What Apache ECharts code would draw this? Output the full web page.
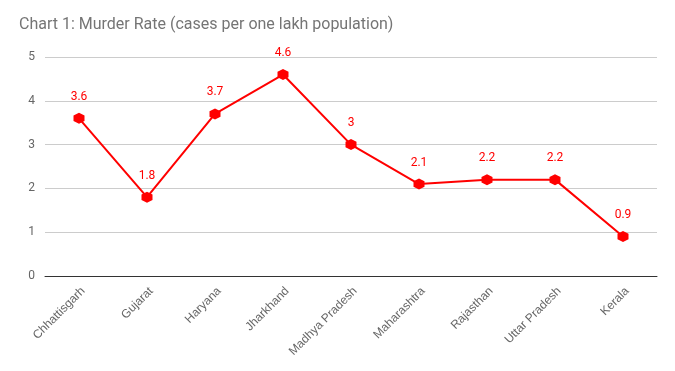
<!DOCTYPE html>
<html>
<head>
<meta charset="utf-8">
<script src="https://cdn.jsdelivr.net/npm/echarts@6/dist/echarts.min.js"></script>
<style>html,body{margin:0;padding:0;background:#fff;}#c{width:675px;height:371px;}</style>
</head>
<body>
<div id="c"></div>
<script>
const categories = ["Chhattisgarh","Gujarat","Haryana","Jharkhand","Madhya Pradesh","Maharashtra","Rajasthan","Uttar Pradesh","Kerala"];
const murderRate = [3.6, 1.8, 3.7, 4.6, 3, 2.1, 2.2, 2.2, 0.9];
const yTicks = [0, 1, 2, 3, 4, 5];

const chart = echarts.init(document.getElementById('c'), null, {renderer: 'canvas'});
chart.setOption({
  animation: false,
  backgroundColor: '#fff',
  textStyle: {fontFamily: 'Roboto'},
  title: {
    text: 'Chart 1: Murder Rate (cases per one lakh population)',
    left: 14, top: 12,
    textStyle: {fontFamily: 'Roboto', fontSize: 16, fontWeight: 'normal', color: '#757575'}
  },
  grid: {left: 45, right: 18, top: 57, bottom: 95},
  xAxis: {
    type: 'category',
    data: categories,
    boundaryGap: true,
    axisLine: {lineStyle: {color: '#333', width: 1}},
    axisTick: {show: false},
    axisLabel: {rotate: 45, color: '#666', fontSize: 12, margin: 9, interval: 0, verticalAlign: 'top', fontFamily: 'Liberation Sans'}
  },
  yAxis: {
    type: 'value',
    min: yTicks[0], max: yTicks[yTicks.length - 1], interval: 1,
    axisLine: {show: false},
    axisTick: {show: false},
    axisLabel: {color: '#666', fontSize: 12, margin: 10},
    splitLine: {lineStyle: {color: '#ccc', width: 1}}
  },
  series: [{
    type: 'line',
    data: murderRate,
    symbol: 'path://M0,-1 L0.866,-0.5 L0.866,0.5 L0,1 L-0.866,0.5 L-0.866,-0.5 Z',
    symbolSize: 11,
    lineStyle: {color: '#ff0000', width: 2},
    itemStyle: {color: '#ff0000'},
    label: {show: true, position: 'top', distance: 10, color: '#ff0000', fontSize: 12, fontFamily: 'Roboto'}
  }]
});
</script>
</body>
</html>
